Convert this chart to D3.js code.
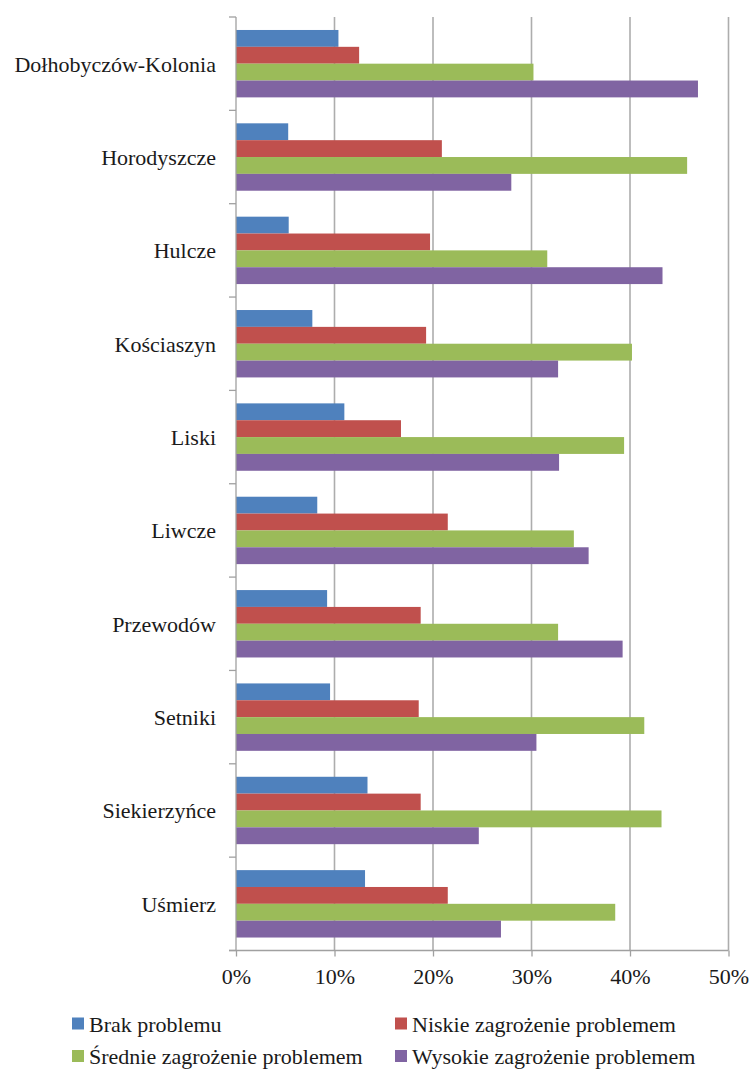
<!DOCTYPE html>
<html>
<head>
<meta charset="utf-8">
<script src="https://d3js.org/d3.v7.min.js"></script>
<style>
	body { margin: 0; background: #fff; }
	svg { display: block; }
	text { font-family: "Liberation Serif", "Times New Roman", serif; fill: #1a1a1a; }
</style>
</head>
<body>
<svg id="chart"></svg>
<script>
//Chart data (percent values)
var categories = ["Dołhobyczów-Kolonia", "Horodyszcze", "Hulcze", "Kościaszyn", "Liski",
	"Liwcze", "Przewodów", "Setniki", "Siekierzyńce", "Uśmierz"];
var seriesNames = ["Brak problemu", "Niskie zagrożenie problemem",
	"Średnie zagrożenie problemem", "Wysokie zagrożenie problemem"];
var brak     = [10.4,  5.3,  5.35,  7.75, 11.0,  8.25,  9.25,  9.55, 13.35, 13.1];
var niskie   = [12.5, 20.9, 19.7,  19.3,  16.75, 21.5,  18.75, 18.55, 18.75, 21.5];
var srednie  = [30.2, 45.8, 31.6,  40.2,  39.4,  34.3,  32.7,  41.45, 43.2,  38.5];
var wysokie  = [46.9, 27.95, 43.3, 32.7,  32.8,  35.8,  39.25, 30.5,  24.65, 26.9];
var seriesColours = ["#4F81BD", "#C0504D", "#9BBB59", "#8064A2"];
var xTicks = [0, 10, 20, 30, 40, 50];

var seriesValues = [brak, niskie, srednie, wysokie];

//svg size and plot area
var svgWidth = 752, svgHeight = 1070;
var plotLeft = 236, plotTop = 17, plotRight = 728.5, plotBottom = 950.5;

var svg = d3.select("#chart")
	.attr("width", svgWidth)
	.attr("height", svgHeight);

//Scales
var xScale = d3.scaleLinear()
	.domain([0, 50])
	.range([plotLeft, plotRight]);

var yScale = d3.scaleBand()
	.domain(categories)
	.range([plotTop, plotBottom])
	.paddingInner(0.278)
	.paddingOuter(0.139);

var ySeries = d3.scaleBand()
	.domain(d3.range(seriesNames.length))
	.range([0, yScale.bandwidth()]);

//Vertical gridlines
svg.append("g")
	.selectAll("line")
	.data(xTicks.slice(1))
	.enter().append("line")
	.attr("x1", function(d){ return xScale(d); })
	.attr("x2", function(d){ return xScale(d); })
	.attr("y1", plotTop)
	.attr("y2", plotBottom)
	.style("stroke", "#ADADAD")
	.style("stroke-width", 1.6);

//Bars, one group per category
var groups = svg.append("g")
	.selectAll("g")
	.data(categories)
	.enter().append("g")
	.attr("transform", function(d){ return "translate(0," + yScale(d) + ")"; });

groups.selectAll("rect")
	.data(function(d, i){
		return seriesValues.map(function(vals, s){ return {s: s, v: vals[i]}; });
	})
	.enter().append("rect")
	.attr("x", xScale(0))
	.attr("y", function(d){ return ySeries(d.s); })
	.attr("width", function(d){ return xScale(d.v) - xScale(0); })
	.attr("height", ySeries.bandwidth())
	.style("fill", function(d){ return seriesColours[d.s]; });

//Bottom axis (ticks drawn by d3, restyled)
var xAxis = svg.append("g")
	.attr("transform", "translate(0," + plotBottom + ")")
	.call(d3.axisBottom(xScale)
		.tickValues(xTicks)
		.tickSize(6)
		.tickPadding(12)
		.tickFormat(function(d){ return d + "%"; }));

xAxis.select(".domain").remove();
xAxis.selectAll(".tick line").style("stroke", "#A0A0A0").style("stroke-width", 1.3);
xAxis.selectAll(".tick text")
	.style("font-family", "'Liberation Serif', serif")
	.style("font-size", "22px")
	.style("fill", "#1a1a1a");

xAxis.append("line")
	.attr("x1", plotLeft - 7)
	.attr("x2", plotRight)
	.style("stroke", "#A0A0A0")
	.style("stroke-width", 1.3);

//Left axis line plus ticks between categories
var step = yScale.step();
var boundaries = d3.range(categories.length + 1).map(function(i){
	return yScale(categories[0]) - yScale.paddingOuter() * step + i * step;
});

svg.append("line")
	.attr("x1", plotLeft).attr("x2", plotLeft)
	.attr("y1", plotTop).attr("y2", plotBottom)
	.style("stroke", "#A0A0A0")
	.style("stroke-width", 1.3);

svg.append("g")
	.selectAll("line")
	.data(boundaries)
	.enter().append("line")
	.attr("x1", plotLeft - 7).attr("x2", plotLeft)
	.attr("y1", function(d){ return d; })
	.attr("y2", function(d){ return d; })
	.style("stroke", "#A0A0A0")
	.style("stroke-width", 1.3);

//Category labels
svg.append("g")
	.selectAll("text")
	.data(categories)
	.enter().append("text")
	.attr("x", 216)
	.attr("y", function(d){ return yScale(d) + yScale.bandwidth() / 2; })
	.attr("dy", "0.36em")
	.attr("text-anchor", "end")
	.style("font-size", "22px")
	.text(function(d){ return d; });

//Legend, two columns by two rows (second row kept inside the page)
var legendCols = [72, 395];
var legendRows = [1017.5, 1050];

var legend = svg.append("g")
	.selectAll("g")
	.data(seriesNames)
	.enter().append("g")
	.attr("transform", function(d, i){
		return "translate(" + legendCols[i % 2] + "," + legendRows[Math.floor(i / 2)] + ")";
	});

legend.append("rect")
	.attr("width", 12)
	.attr("height", 12)
	.style("fill", function(d, i){ return seriesColours[i]; });

legend.append("text")
	.attr("x", 17)
	.attr("y", 14)
	.style("font-size", "22px")
	.text(function(d){ return d; });
</script>
</body>
</html>
